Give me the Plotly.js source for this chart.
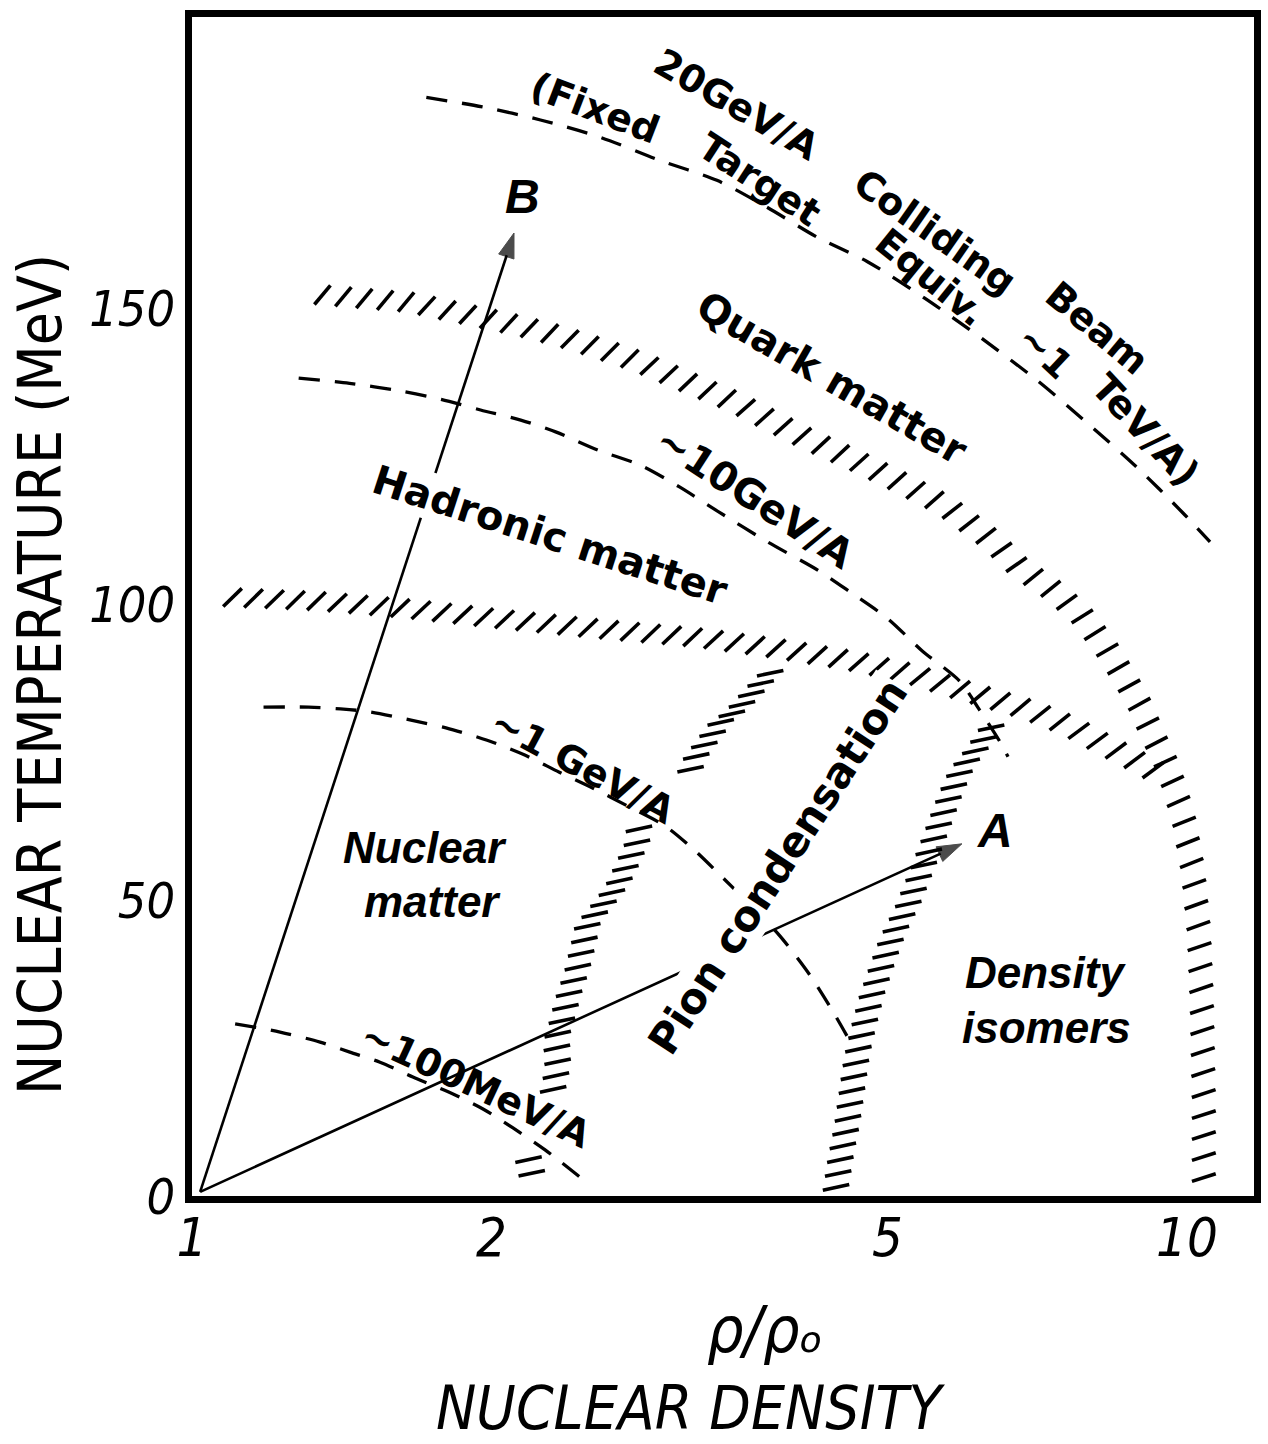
<!DOCTYPE html>
<html>
<head>
<meta charset="utf-8">
<script src="https://cdn.plot.ly/plotly-3.0.1.min.js"></script>
<style>html,body{margin:0;padding:0;background:#fff}#chart{width:1268px;height:1444px}</style>
</head>
<body>
<div id="chart"></div>
<script>
// ---------------- DATA (ρ/ρ0 , T in MeV) ----------------
// iso-energy (beam energy) dashed lines
const beam20_rho = [1.72,1.96,2.24,2.57,2.95,3.37,3.78,4.25,4.77,5.45,6.22,7.07,7.94,8.91,9.91,10.55];
const beam20_T   = [185.6,184.0,181.8,178.9,175.0,171.6,167.1,162.0,157.9,151.7,144.9,137.8,130.6,123.1,115.4,110.5];
const gev10_rho  = [1.28,1.44,1.62,1.78,1.95,2.14,2.32,2.56,2.82,3.09,3.39,3.79,4.26,4.60,5.00,5.42,5.91,6.19,6.49,6.61];
const gev10_T    = [138.2,137.3,136.0,134.6,132.8,131.1,129.1,126.0,123.5,119.8,115.5,110.5,105.7,101.9,97.6,92.1,87.0,82.1,76.7,74.2];
const gev1_rho   = [1.18,1.31,1.41,1.51,1.66,1.80,1.98,2.16,2.34,2.53,2.74,2.99,3.20,3.41,3.64,3.90,4.18,4.41,4.59];
const gev1_T     = [82.6,82.6,82.3,81.8,80.4,79.1,77.0,74.5,71.6,68.9,65.9,62.5,58.4,53.9,49.2,43.9,37.3,31.1,26.0];
const mev100_rho = [1.105,1.226,1.345,1.441,1.545,1.683,1.809,1.961,2.102,2.264,2.454];
const mev100_T   = [29.1,27.7,26.0,24.3,22.6,19.8,17.6,14.7,11.5,7.8,3.2];

// hatched phase boundaries
const quarkBoundary_rho = [1.32,1.475,1.656,1.859,2.126,2.343,2.601,2.820,3.115,3.498,3.810,4.178,4.638,5.148,5.711,6.368,6.793,7.385,7.843,8.272,8.663,8.973,9.222,9.504,9.703,9.931,10.14,10.28,10.35,10.40,10.40];
const quarkBoundary_T   = [152.4,151.7,151.0,149.2,147.1,145.3,142.9,140.9,137.8,134.3,131.1,127.7,124.3,120.6,116.7,110.8,106.1,102.0,98.0,92.9,87.5,82.9,78.2,73.6,69.4,63.5,55.1,44.9,33.1,16.2,1.0];
const hadronBoundary_rho = [1.072,1.345,1.656,2.040,2.571,3.241,3.810,4.585,5.268,5.779,6.339,6.952,7.627,8.272,8.868,9.438];
const hadronBoundary_T   = [101.2,100.5,99.2,97.5,95.8,94.3,92.7,90.5,88.3,86.1,84.1,82.1,79.4,76.2,73.6,71.1];
const pionLeft_rho = [3.854,3.706,3.529,3.402,3.317,3.217,3.151,null,2.820,2.800,2.743,2.674,2.601,2.500,2.477,2.437,2.387,2.360,2.322,2.333,2.322,2.306,null,2.171,2.191,2.211];
const pionLeft_T   = [89.2,86.1,82.1,80.1,77.5,74.5,71.1,null,63.2,59.6,56.3,52.4,49.7,46.1,42.9,38.0,33.6,30.2,26.4,23.3,20.4,17.9,null,7.3,4.4,1.7];
const pionRight_rho = [6.413,6.194,5.941,5.779,5.620,5.416,5.244,5.065,4.938,4.825,4.737,4.660,4.607,4.554,4.491,4.439];
const pionRight_T   = [80.1,76.2,72.3,67.7,62.2,55.1,49.2,44.1,39.0,34.0,28.9,23.8,17.9,12.0,6.9,1.4];

// trajectories
const pathA_rho = [1.019, 5.941];
const pathA_T   = [0.7, 59.5];
const pathB_rho = [1.019, 2.107];
const pathB_T   = [0.7, 162.7];

// ticks
const xTickVals = [1, 2, 5, 10];
const xTickText = ['1', '2', '5', '10'];
const yTickVals = [0, 50, 100, 150];
const yTickText = ['0', '50', '100', '150'];

// ---------------- LAYOUT GEOMETRY ----------------
const X_MAX = 11.68, Y_MAX = 199.2;
const MG = {l:192, r:14, t:17, b:248};
const W = 1268 - MG.l - MG.r, H = 1444 - MG.t - MG.b;
const LX = Math.log10(X_MAX);
function toPx(r, t) { return [Math.log10(r) / LX * W, t / Y_MAX * H]; }
function toData(px, py) { return [Math.pow(10, px / W * LX), py / H * Y_MAX]; }

// hatch marks placed along a boundary curve
function hatch(rhos, temps, opt) {
  const xs = [], ys = [];
  const segs = []; let cur = [];
  for (let i = 0; i < rhos.length; i++) {
    if (rhos[i] === null) { if (cur.length > 1) segs.push(cur); cur = []; continue; }
    cur.push(toPx(rhos[i], temps[i]));
  }
  if (cur.length > 1) segs.push(cur);
  segs.forEach(p => {
    const cum = [0];
    for (let k = 1; k < p.length; k++) cum.push(cum[k-1] + Math.hypot(p[k][0]-p[k-1][0], p[k][1]-p[k-1][1]));
    const total = cum[cum.length-1];
    let k = 0;
    for (let s = opt.step / 2; s <= total; s += opt.step) {
      while (k < p.length - 2 && cum[k+1] < s) k++;
      const f = (s - cum[k]) / ((cum[k+1] - cum[k]) || 1);
      const cx = p[k][0] + f * (p[k+1][0] - p[k][0]);
      const cy = p[k][1] + f * (p[k+1][1] - p[k][1]);
      const tang = Math.atan2(p[k+1][1] - p[k][1], p[k+1][0] - p[k][0]) * 180 / Math.PI;
      const ang = opt.angle(tang) * Math.PI / 180;
      const dx = Math.cos(ang) * opt.len / 2, dy = Math.sin(ang) * opt.len / 2;
      const a = toData(cx - dx, cy - dy), b = toData(cx + dx, cy + dy);
      xs.push(a[0], b[0], null); ys.push(a[1], b[1], null);
    }
  });
  return {xs, ys};
}

const BLACK = '#000';
const dashLine = {color: BLACK, width: 3.3, dash: '21px,15px', shape: 'spline', smoothing: 0.8};
const hatchLine = {color: BLACK, width: 3.6};
const quarkHatch  = {step: 21, len: 25, angle: t => 52 + 0.38 * t};
const hadronHatch = {step: 21, len: 26, angle: t => 45 + 0.3 * t};
const flatHatch   = {step: 14, len: 27, angle: t => 12};

const hq = hatch(quarkBoundary_rho, quarkBoundary_T, quarkHatch);
const hh = hatch(hadronBoundary_rho, hadronBoundary_T, hadronHatch);
const hl = hatch(pionLeft_rho, pionLeft_T, flatHatch);
const hr = hatch(pionRight_rho, pionRight_T, flatHatch);

const arrowMarker = {symbol: ['circle', 'arrow'], size: [0, 26], angleref: 'previous', color: BLACK, line: {width: 1, color: BLACK}};

const traces = [
  {x: beam20_rho, y: beam20_T, mode: 'lines', line: dashLine, name: '20 GeV/A colliding beam'},
  {x: gev10_rho, y: gev10_T, mode: 'lines', line: dashLine, name: '~10 GeV/A'},
  {x: gev1_rho, y: gev1_T, mode: 'lines', line: dashLine, name: '~1 GeV/A'},
  {x: mev100_rho, y: mev100_T, mode: 'lines', line: dashLine, name: '~100 MeV/A'},
  {x: hq.xs, y: hq.ys, mode: 'lines', line: hatchLine, name: 'quark matter boundary'},
  {x: hh.xs, y: hh.ys, mode: 'lines', line: hatchLine, name: 'hadronic boundary'},
  {x: hl.xs, y: hl.ys, mode: 'lines', line: hatchLine, name: 'pion condensation boundary'},
  {x: hr.xs, y: hr.ys, mode: 'lines', line: hatchLine, name: 'density isomer boundary'},
  {x: pathA_rho, y: pathA_T, mode: 'lines+markers', line: {color: BLACK, width: 2.6}, marker: arrowMarker, name: 'A'},
  {x: pathB_rho, y: pathB_T, mode: 'lines+markers', line: {color: BLACK, width: 2.6}, marker: arrowMarker, name: 'B'}
];

// fonts
const LEROY = "'DejaVu Sans', sans-serif";
const HELV = "'Liberation Sans', Arial, sans-serif";
const NARROW = "'DejaVu Sans Condensed', 'Liberation Sans Narrow', 'DejaVu Sans', sans-serif";

function lbl(text, rho, T, angle, font, extra) {
  return Object.assign({
    text: text, x: Math.log10(rho), y: T, xref: 'x', yref: 'y',
    showarrow: false, textangle: angle, font: font,
    xanchor: 'center', yanchor: 'middle'
  }, extra || {});
}
function paperLbl(text, px, py, angle, font) {
  return {text: text, x: (px - MG.l) / W, y: (MG.t + H - py) / H, xref: 'paper', yref: 'paper',
    showarrow: false, textangle: angle, font: font, xanchor: 'center', yanchor: 'middle'};
}
const fLeroy = {family: LEROY, size: 38, color: BLACK, weight: 'bold'};
const fLeroyBig = {family: LEROY, size: 40, color: BLACK, weight: 'bold'};
const fHelv = {family: HELV, size: 44, color: BLACK, weight: 'bold', style: 'italic'};

const annotations = [
  lbl('20GeV/A', 3.53, 184.3, 30, fLeroy),
  lbl('Colliding', 5.58, 162.8, 35, fLeroy),
  lbl('Beam', 8.12, 146.6, 40, fLeroy),
  lbl('(Fixed', 2.54, 183.8, 21, fLeroy),
  lbl('Target', 3.72, 171.6, 33, fLeroy),
  lbl('Equiv.', 5.52, 155.2, 39, fLeroy),
  lbl('~1', 7.20, 142.6, 43, fLeroy),
  lbl('TeV/A)', 9.08, 129.4, 47, fLeroy),
  lbl('Quark matter', 4.40, 138.2, 30, fLeroyBig),
  lbl('Hadronic matter', 2.29, 111.7, 18, fLeroyBig, {bgcolor: '#fff', borderpad: 0}),
  lbl('~10GeV/A', 3.68, 118.1, 33, fLeroyBig),
  lbl('~1 GeV/A', 2.47, 72.6, 28, fLeroy),
  lbl('~100MeV/A', 1.93, 18.8, 25, fLeroy),
  lbl('Nuclear', 1.715, 58.8, 0, fHelv),
  lbl('matter', 1.743, 49.7, 0, fHelv),
  lbl('Density', 7.217, 37.8, 0, fHelv),
  lbl('isomers', 7.233, 28.5, 0, fHelv),
  lbl('Pion condensation', 3.88, 55.7, -57, {family: LEROY, size: 42, color: BLACK, weight: 'bold'}, {bgcolor: '#fff', borderpad: 0}),
  lbl('A', 6.41, 61.8, 0, {family: HELV, size: 48, color: BLACK, weight: 'bold', style: 'italic'}),
  lbl('B', 2.15, 168.9, 0, {family: HELV, size: 48, color: BLACK, weight: 'bold', style: 'italic'}),
  // axis titles
  paperLbl('NUCLEAR TEMPERATURE (MeV)', 40, 675, -90, {family: NARROW, size: 60, color: BLACK}),
  paperLbl('ρ/ρₒ', 765, 1330, 0, {family: NARROW, size: 64, color: BLACK, style: 'italic'}),
  paperLbl('NUCLEAR DENSITY', 691, 1408, 0, {family: NARROW, size: 60, color: BLACK, style: 'italic'})
];

const layout = {
  width: 1268, height: 1444,
  margin: MG,
  paper_bgcolor: '#fff', plot_bgcolor: '#fff',
  showlegend: false,
  xaxis: {
    type: 'log', range: [0, LX], tickmode: 'array', tickvals: xTickVals, ticktext: xTickText,
    ticks: '', showgrid: false, zeroline: false, showline: true, mirror: true,
    linewidth: 7, linecolor: BLACK, fixedrange: true, ticklabelstandoff: -12,
    tickfont: {family: NARROW, size: 54, color: BLACK, style: 'italic'}
  },
  yaxis: {
    range: [0, Y_MAX], tickmode: 'array', tickvals: yTickVals, ticktext: yTickText,
    ticks: '', showgrid: false, zeroline: false, showline: true, mirror: true,
    linewidth: 7, linecolor: BLACK, fixedrange: true,
    tickfont: {family: NARROW, size: 50, color: BLACK, style: 'italic'}
  },
  annotations: annotations
};

Plotly.newPlot('chart', traces, layout, {displayModeBar: false, staticPlot: true});
</script>
</body>
</html>
